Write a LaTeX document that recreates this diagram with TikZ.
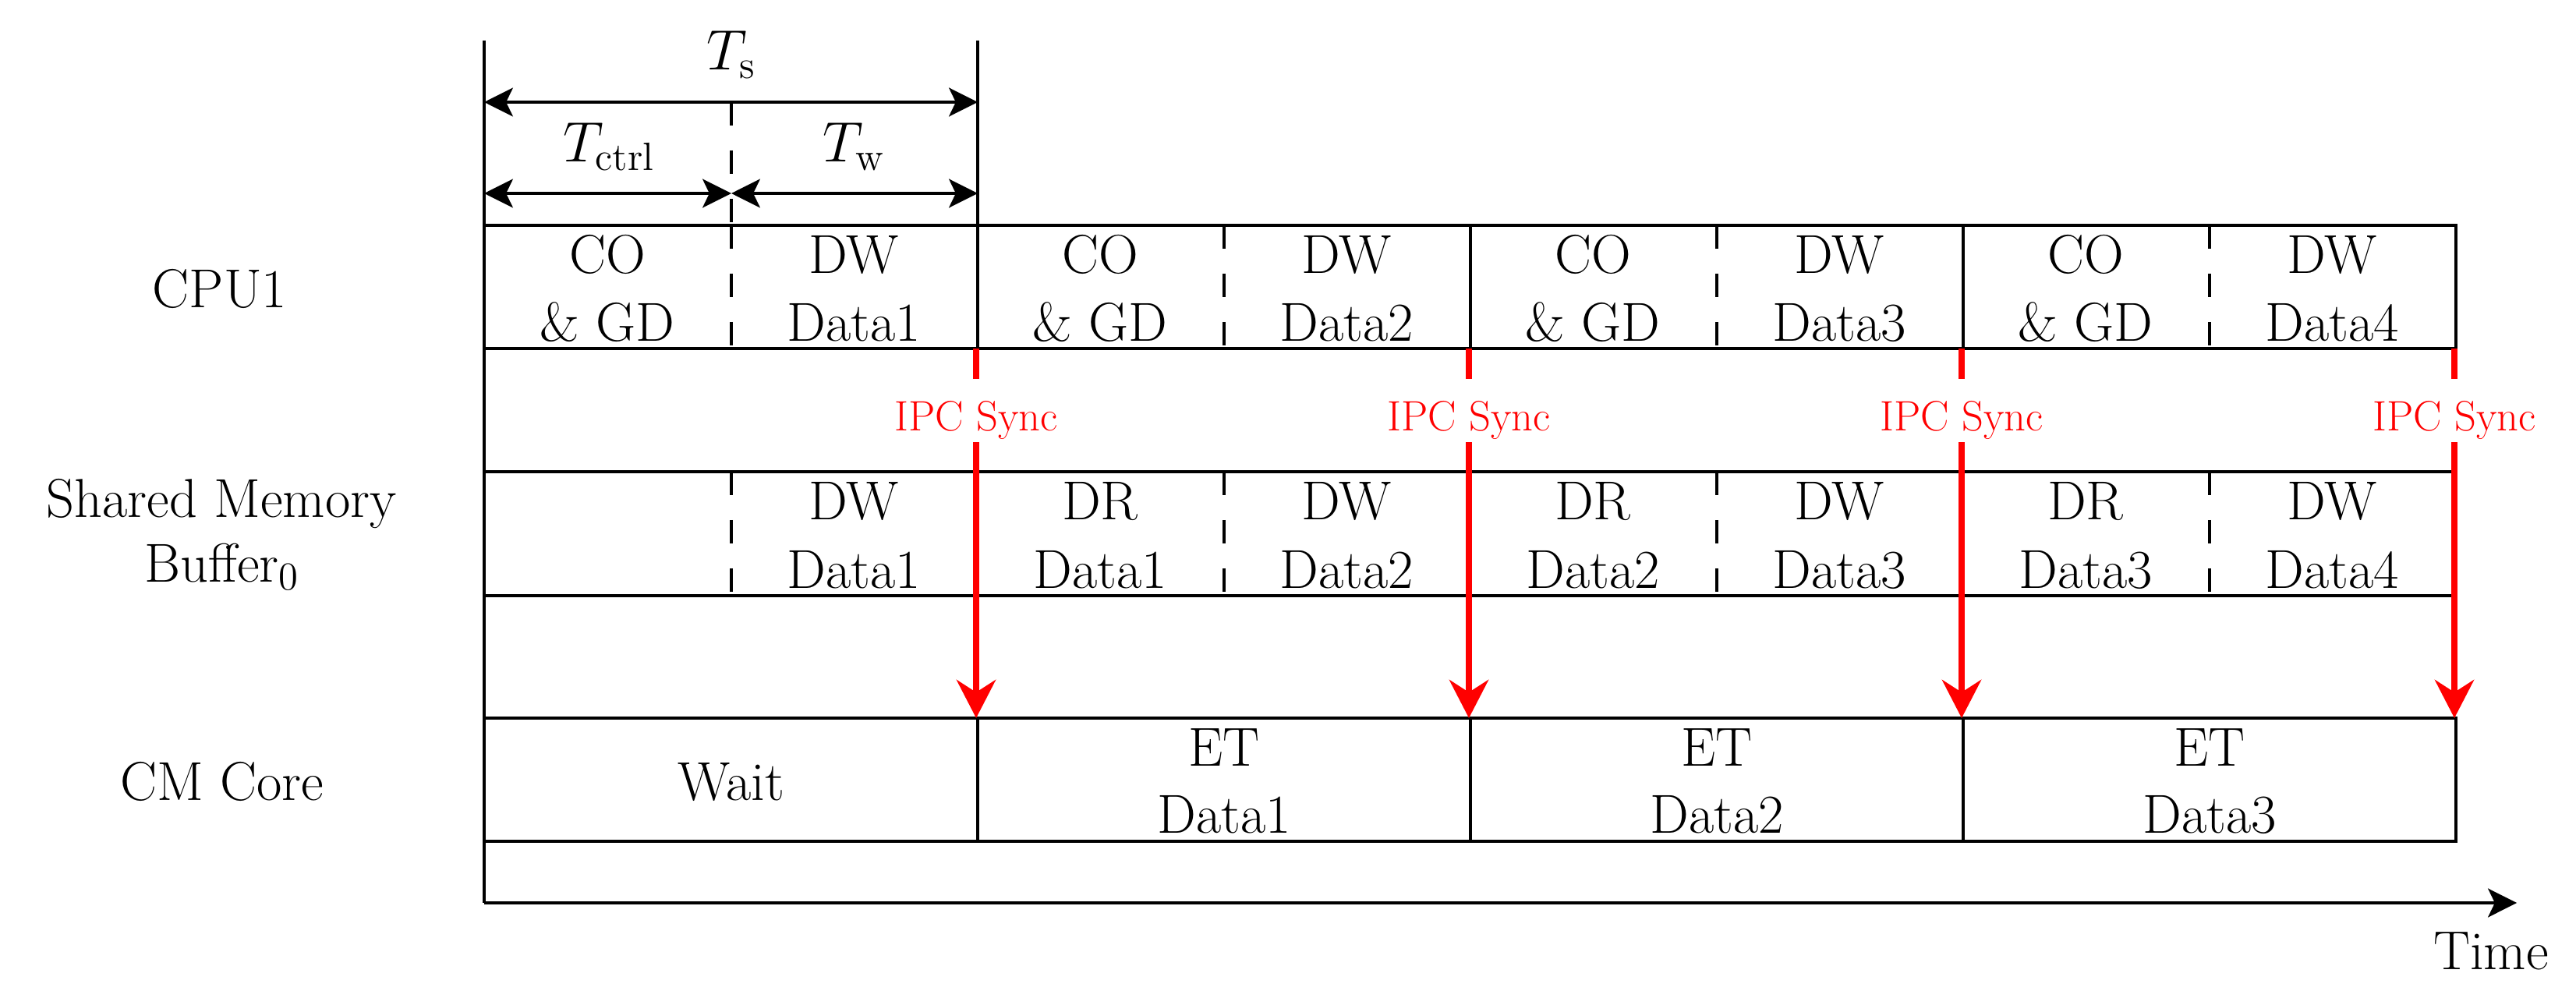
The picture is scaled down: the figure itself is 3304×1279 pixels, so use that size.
\documentclass[tikz,border=0pt]{standalone}
\usetikzlibrary{arrows.meta}
\begin{document}
\begin{tikzpicture}[x=0.01cm,y=-0.01cm,line width=1pt,
  lab/.style={font=\fontsize{20}{24}\selectfont, inner sep=0pt, anchor=base},
  ipc/.style={font=\fontsize{15.5}{18}\selectfont, text=red, inner sep=0pt, anchor=base},
  dashdiv/.style={dash pattern=on 8.6pt off 9pt},
  blk/.style={-{Stealth[length=10.5pt,width=10.5pt,inset=2.5pt]}},
  blkboth/.style={{Stealth[length=10.5pt,width=10.5pt,inset=2.5pt]}-{Stealth[length=10.5pt,width=10.5pt,inset=2.5pt]}},
  syncline/.style={draw=red,line width=2.4pt},
  syncarrow/.style={draw=red,line width=2.4pt,-{Stealth[length=13.9pt,width=14.2pt,inset=4.5pt]}}]
\useasboundingbox (0,0) rectangle (3304,1279);

% key coordinates
\coordinate (vtop) at (621,52);
\coordinate (origin) at (621,1158);
\coordinate (tend) at (3228,1158);
\coordinate (vtopR) at (1254,52);
\coordinate (cputopR) at (1254,289);
\coordinate (tsL) at (621,131);
\coordinate (tsR) at (1254,131);
\coordinate (tcL) at (621,248);
\coordinate (tcM) at (938,248);
\coordinate (tcR) at (1254,248);
\coordinate (dtop) at (938,131);
\coordinate (dbot) at (938,289);

% axes
\draw (vtop) -- (origin);
\draw[blk] (origin) -- (tend);
\draw (vtopR) -- (cputopR);

% dimension arrows
\draw[blkboth] (tsL) -- (tsR);
\draw[blkboth] (tcL) -- (tcM);
\draw[blkboth] (tcM) -- (tcR);
\draw[dashdiv] (dtop) -- (dbot);

\node[lab] (ts) at (938,90) {$T_{\mathrm{s}}$};
\node[lab] (tctrl) at (781,208) {$T_{\mathrm{ctrl}}$};
\node[lab] (tw) at (1096,208) {$T_{\mathrm{w}}$};

% rows
\draw (621,289) rectangle (3150,447);
\draw (621,605) rectangle (3150,764);
\draw (621,921) rectangle (3150,1079);

\foreach \x in {1254,1886,2518}{
  \draw (\x,289) -- (\x,447);
  \draw (\x,921) -- (\x,1079);
}
\foreach \x in {938,1570,2202,2834}{
  \draw[dashdiv] (\x,289) -- (\x,447);
  \draw[dashdiv] (\x,605) -- (\x,764);
}

% row labels
\node[lab] (lcpu) at (282,394) {CPU1};
\node[lab] (lsm1) at (284,663) {Shared Memory};
\node[lab] (lsm2) at (285,746) {Buffer$_0$};
\node[lab] (lcm) at (285,1026) {CM Core};
\node[lab] (ltime) at (3195,1243) {Time};

% CPU cells
\foreach \k/\a/\b [evaluate=\k as \cx using 779+316*\k] in
  {0/CO/{\& GD},1/DW/Data1,2/CO/{\& GD},3/DW/Data2,4/CO/{\& GD},5/DW/Data3,6/CO/{\& GD},7/DW/Data4}{
  \node[lab] (cpu\k a) at (\cx,350) {\a};
  \node[lab] (cpu\k b) at (\cx,437) {\b};
}
% shared memory cells
\foreach \k/\a/\b [evaluate=\k as \cx using 779+316*\k] in
  {1/DW/Data1,2/DR/Data1,3/DW/Data2,4/DR/Data2,5/DW/Data3,6/DR/Data3,7/DW/Data4}{
  \node[lab] (sm\k a) at (\cx,666) {\a};
  \node[lab] (sm\k b) at (\cx,754) {\b};
}
% CM core cells
\node[lab] (wait) at (938,1026) {Wait};
\foreach \k/\b [evaluate=\k as \cx using 1570+632*\k] in {0/Data1,1/Data2,2/Data3}{
  \node[lab] (et\k a) at (\cx,982) {ET};
  \node[lab] (et\k b) at (\cx,1068) {\b};
}

% IPC sync arrows
\foreach \k [evaluate=\k as \sx using 1252+632*\k] in {0,1,2,3}{
  \coordinate (s\k a) at (\sx,447);
  \coordinate (s\k b) at (\sx,486);
  \coordinate (s\k c) at (\sx,567);
  \coordinate (s\k d) at (\sx,921);
  \draw[syncline] (s\k a) -- (s\k b);
  \draw[syncarrow] (s\k c) -- (s\k d);
  \node[ipc] (ipc\k) at (\sx,552) {IPC Sync};
}
\end{tikzpicture}
\end{document}
